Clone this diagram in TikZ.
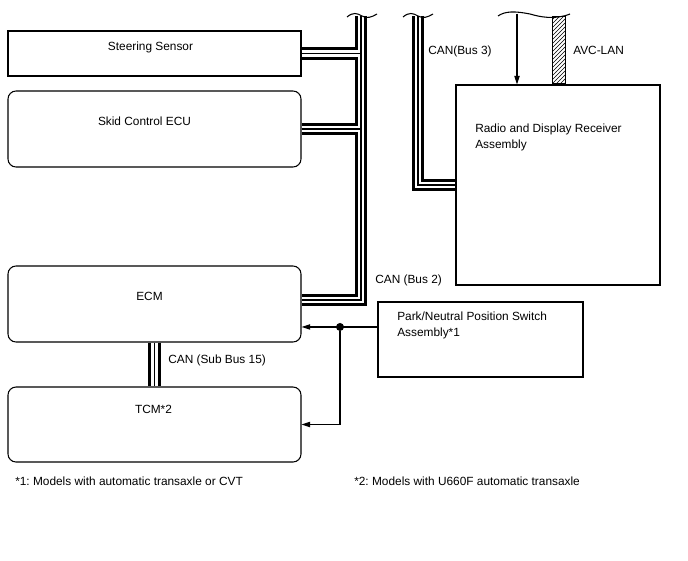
\documentclass[tikz,border=0pt]{standalone}
\usepackage{fontspec}
\setmainfont{Liberation Sans}
\frenchspacing
\usetikzlibrary{arrows.meta,calc,patterns}

\begin{document}
\begin{tikzpicture}[x=0.75pt, y=-0.75pt,
      unit/.style={rectangle, draw, line width=0.8pt, minimum width=219.75pt, inner sep=0pt},
      unitr/.style={unit, rounded corners=6pt},
      lbl/.style={inner sep=0pt, font=\fontsize{8.9}{12.3}\selectfont},
      busouter/.style={line width=9.4pt, draw=black},
      busgap/.style={line width=4.8pt, draw=white},
      buscore/.style={line width=1pt, draw=black},
      brk/.style={line width=0.8pt},
      sig/.style={line width=0.8pt, -{Triangle[length=6.5pt,width=4pt]}},
      tapdot/.style={circle, fill, inner sep=0pt, minimum size=6pt}
    ]
    \useasboundingbox (0,0) rectangle (688,560);

    \node[unit, minimum height=33.75pt] (ss) at (154.5,53.5) {};
    \node[unitr, minimum height=57pt] (sk) at (154.5,129) {};
    \node[unitr, minimum height=57pt] (ecm) at (154.5,304) {};
    \node[unitr, minimum height=56.25pt] (tcm) at (154.5,424.5) {};
    \node[unit, minimum width=153pt, minimum height=150pt] (radio) at (558,185) {};
    \node[unit, minimum width=153.75pt, minimum height=56.25pt] (pnp) at (480.5,339.5) {};

    \coordinate (bus2top) at (361,16);
    \coordinate (bus3top) at (418,16);
    \foreach \ly in {busouter,busgap,buscore} {
      \draw[\ly] (bus2top) |- ([yshift=3pt]ecm.east);
      \draw[\ly] (ss.east) -- (ss.east -| bus2top);
      \draw[\ly] (sk.east) -- (sk.east -| bus2top);
      \draw[\ly] (bus3top) |- (radio.west);
      \draw[\ly] (ecm.south) -- (tcm.north);
    }
    \draw[brk] (347,17) .. controls (353,12) and (357,13) .. (362,16) .. controls (367,19) and (372,17) .. (377,14);
    \draw[brk] (403,17) .. controls (409,12) and (413,13) .. (418,16) .. controls (423,19) and (428,17) .. (433,14);

    \coordinate (avtop) at (517,14);
    \draw[brk] (498,16) .. controls (505,11) and (515,11) .. (530,14) .. controls (540,17) and (555,20) .. (570,14);
    \draw[sig] (avtop) -- (avtop |- radio.north);
    \node[draw, line width=0.8pt, pattern=north east lines, anchor=south, inner sep=0pt,
          minimum width=9.75pt, minimum height=50.5pt] (avc) at ([xshift=0.4pt]radio.north) {};

    \coordinate (pnpout) at ([yshift=9.4pt]pnp.west);
    \node[tapdot] (tap) at (pnpout -| 340,0) {};
    \draw[sig] (pnpout) -- (pnpout -| ecm.east);
    \draw[sig] (tap) |- (tcm.east);

    \node[lbl, anchor=mid] (sstxt) at (150.5,47) {Steering Sensor};
    \node[lbl, anchor=mid] (sktxt) at (144.5,122) {Skid Control ECU};
    \node[lbl, anchor=mid] (ecmtxt) at (149.5,297) {ECM};
    \node[lbl, anchor=mid] (tcmtxt) at (153.5,410) {TCM*2};
    \node[lbl, anchor=north west, align=left] (radiotxt) at (475,123.5) {Radio and Display Receiver\\Assembly};
    \node[lbl, anchor=north west, align=left] (pnptxt) at (397,311.5) {Park/Neutral Position Switch\\Assembly*1};
    \node[lbl, anchor=mid west] (bus3txt) at (428,51) {CAN(Bus 3)};
    \node[lbl, anchor=mid west] (avctxt) at (573,51) {AVC-LAN};
    \node[lbl, anchor=mid west] (bus2txt) at (375,280) {CAN (Bus 2)};
    \node[lbl, anchor=mid west] (sub15txt) at (168,360) {CAN (Sub Bus 15)};
    \node[lbl, anchor=mid west] (note1) at (15,482) {*1: Models with automatic transaxle or CVT};
    \node[lbl, anchor=mid west] (note2) at (354,482) {*2: Models with U660F automatic transaxle};
  \end{tikzpicture}
\end{document}
